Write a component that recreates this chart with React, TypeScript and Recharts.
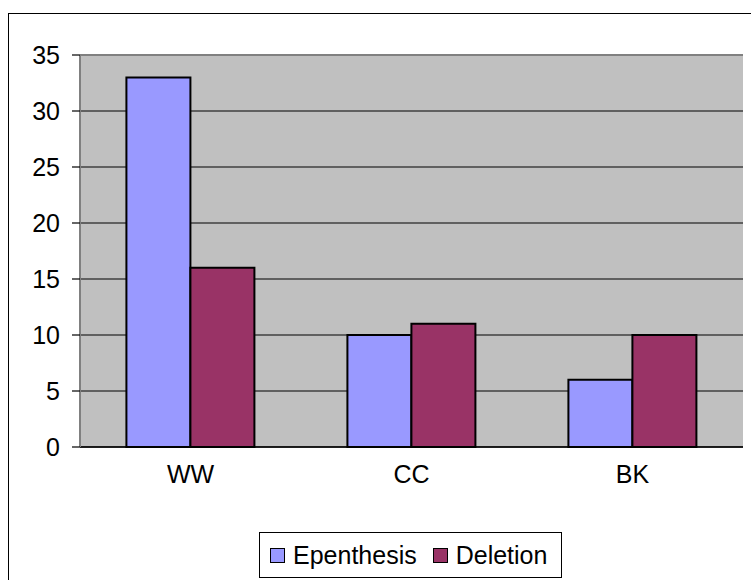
import React from "react";
import {
  Bar,
  BarChart,
  CartesianGrid,
  Legend,
  ReferenceLine,
  XAxis,
  YAxis,
} from "recharts";

const CATEGORIES = ["WW", "CC", "BK"];
const EPENTHESIS = [33, 10, 6];
const DELETION = [16, 11, 10];
const SERIES_ORDER = ["Epenthesis", "Deletion"];
const Y_TICKS = [0, 5, 10, 15, 20, 25, 30, 35];
const EDGE_TICKS = [0, 1, 2, 3];

const FONT = '"Liberation Sans", Arial, sans-serif';

const data = CATEGORIES.map((name, i) => ({
  name,
  epenthesis: EPENTHESIS[i],
  deletion: DELETION[i],
}));

// Excel-style boxed legend, kept in series order
const BoxLegend = ({ payload }: any) => {
  const items = [...(payload || [])].sort(
    (a: any, b: any) => SERIES_ORDER.indexOf(a.value) - SERIES_ORDER.indexOf(b.value)
  );
  return (
    <div
      style={{
        boxSizing: "border-box",
        height: 46,
        border: "1px solid #000",
        background: "#fff",
        display: "flex",
        alignItems: "center",
        paddingLeft: 10,
        fontFamily: FONT,
        fontSize: 25,
        color: "#000",
      }}
    >
      {items.map((item: any, i: number) => (
        <span key={i} style={{ display: "flex", alignItems: "center", marginRight: 16 }}>
          <span
            style={{
              display: "inline-block",
              boxSizing: "border-box",
              width: 15,
              height: 15,
              border: "1px solid #000",
              background: item.color,
              marginRight: 8,
            }}
          />
          {item.value}
        </span>
      ))}
    </div>
  );
};

export default function App() {
  return (
    <div style={{ position: "fixed", inset: 0, overflow: "hidden", background: "#fff" }}>
      <div
        style={{
          position: "absolute",
          left: 8,
          top: 13,
          width: 900,
          height: 800,
          border: "1.5px solid #000",
        }}
      />
      <div style={{ position: "absolute", left: 0, top: 0 }}>
        <BarChart
          width={751}
          height={580}
          data={data}
          margin={{ top: 55, right: 8, left: 0, bottom: 2 }}
          barCategoryGap="21%"
          barGap={0}
        >
          <CartesianGrid vertical={false} stroke="#000" strokeWidth={1.2} fill="#C0C0C0" fillOpacity={1} />
          <XAxis
            xAxisId="edges"
            type="number"
            domain={[0, 3]}
            ticks={EDGE_TICKS}
            tick={false}
            axisLine={false}
            tickLine={{ stroke: "#808080", strokeWidth: 2 }}
            tickSize={8}
            height={0}
          />
          <XAxis
            dataKey="name"
            axisLine={{ stroke: "#000", strokeWidth: 1.5 }}
            tickLine={false}
            tickSize={0}
            tickMargin={18}
            height={85}
            tick={{ fontSize: 25, fill: "#000", fontFamily: FONT }}
          />
          <YAxis
            domain={[0, 35]}
            ticks={Y_TICKS}
            interval={0}
            width={80}
            axisLine={{ stroke: "#808080", strokeWidth: 2 }}
            tickLine={{ stroke: "#000", strokeWidth: 1.2 }}
            tickSize={8}
            tickMargin={12}
            tick={{ fontSize: 25, fill: "#000", fontFamily: FONT }}
          />
          <ReferenceLine y={35} stroke="#808080" strokeWidth={2} />
          <ReferenceLine xAxisId="edges" x={3} stroke="#808080" strokeWidth={3} />
          <Legend
            verticalAlign="bottom"
            content={<BoxLegend />}
            wrapperStyle={{ left: 259, width: 303, bottom: 2 }}
          />
          <Bar
            dataKey="epenthesis"
            name="Epenthesis"
            fill="#9999FF"
            stroke="#000"
            strokeWidth={2}
            isAnimationActive={false}
          />
          <Bar
            dataKey="deletion"
            name="Deletion"
            fill="#993366"
            stroke="#000"
            strokeWidth={2}
            isAnimationActive={false}
          />
        </BarChart>
      </div>
    </div>
  );
}
